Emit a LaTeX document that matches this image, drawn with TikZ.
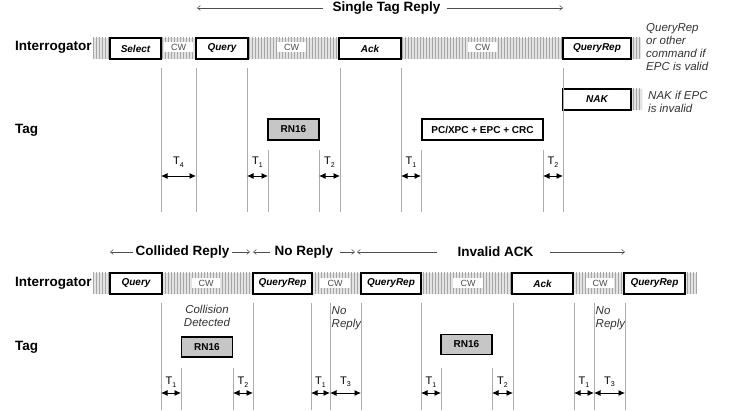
\documentclass[tikz,border=0pt]{standalone}
\usepackage{fontspec}
\setmainfont{Liberation Sans}
\usetikzlibrary{arrows.meta,patterns}
\newcommand\mystripes[4]{%
  \fill[gray!22] (#1,#2) rectangle (#3,#4);
  \fill[pattern=vertical lines, pattern color=gray!70] (#1,#2) rectangle (#3,#4);}
\newcommand\Tsub[2]{T\raisebox{-2.5pt}{\fontsize{7}{7}\selectfont #2}}
\begin{document}
\begin{tikzpicture}[x=1pt,y=-1pt,
 lbl/.style={font=\fontsize{13.5}{16}\selectfont\bfseries, anchor=west, inner sep=0},
 hdr/.style={font=\fontsize{13.5}{16}\selectfont\bfseries, inner sep=0},
 cmd/.style={draw=black, line width=1.1pt, fill=white, inner sep=0, minimum height=21pt, font=\fontsize{10}{12}\selectfont\bfseries\itshape},
 tagbox/.style={draw=black, line width=1.1pt, fill=gray!45, inner sep=0, minimum height=21pt, font=\fontsize{10}{12}\selectfont\bfseries},
 cw/.style={fill=white, inner sep=0, minimum width=29pt, minimum height=10pt, font=\fontsize{9}{10}\selectfont, text=black!70},
 vline/.style={draw=gray!65, line width=0.9pt},
 tarr/.style={{Latex[length=6.5pt,width=6pt]}-{Latex[length=6.5pt,width=6pt]}, line width=0.8pt},
 tlab/.style={font=\fontsize{11}{12}\selectfont, inner sep=0},
 note/.style={font=\fontsize{11.5}{13}\selectfont\itshape, inner sep=0, text=black!80},
 harr/.style={-{Straight Barb[length=3pt,width=5pt]}, draw=black!70, line width=0.5pt},
]
\useasboundingbox (0,0) rectangle (732,411);

% ---------- top section ----------
\mystripes{93}{38}{563}{59}
\mystripes{631}{38}{641}{59}
\mystripes{631}{89}{642}{110}

\node[lbl] (int1) at (15,47) {Interrogator};
\node[lbl] (tag1) at (15,130) {Tag};

\node[hdr] (h1) at (386.5,8) {Single Tag Reply};
\coordinate (h1l) at (197,8);
\coordinate (h1r) at (563,8);
\draw[harr] ([xshift=-9pt]h1.west) -- (h1l);
\draw[harr] ([xshift=6pt]h1.east) -- (h1r);

\node[cmd, minimum width=51pt] (sel) at (135.5,48.5) {Select};
\node[cw] (cw1) at (178.5,47) {CW};
\node[cmd, minimum width=52pt] (qry) at (222,48.5) {Query};
\node[cw] (cw2) at (291.5,47) {CW};
\node[cmd, minimum width=62pt] (ack) at (370,48.5) {Ack};
\node[cw] (cw3) at (482.5,47) {CW};
\node[cmd, minimum width=68pt] (qr0) at (597,48.5) {QueryRep};
\node[cmd, minimum width=68pt] (nak) at (597,99.5) {NAK};
\node[tagbox, minimum width=51pt] (rn1) at (293.5,129.5) {RN16};
\node[cmd, font=\fontsize{10}{12}\selectfont\bfseries, minimum width=121pt] (epc) at (482.5,129.5) {PC/XPC + EPC + CRC};

\node[note, anchor=west, align=left] (n1) at (646,47.5) {QueryRep\\or other\\command if\\EPC is valid};
\node[note, anchor=west, align=left] (n2) at (648,101.5) {NAK if EPC\\is invalid};

\foreach \x in {161,196,247,340,401,563} \draw[vline] (\x,68) -- (\x,212);
\foreach \x in {268,319,421,543} \draw[vline] (\x,150) -- (\x,212);

\foreach \a/\b/\n in {161/196/4,247/268/1,319/340/2,401/421/1,543/563/2}{
  \coordinate (ta\a) at (\a,176);
  \coordinate (tb\a) at (\b,176);
  \draw[tarr] (ta\a) -- (tb\a);
  \node[tlab] at ({(\a+\b)/2},162) {\Tsub{}{\n}};
}

% ---------- bottom section ----------
\mystripes{93}{273}{697}{294}

\node[lbl] (int2) at (15,283) {Interrogator};
\node[lbl] (tag2) at (15,347) {Tag};

\node[hdr] (h2) at (182.5,252) {Collided Reply};
\node[hdr] (h3) at (304,252) {No Reply};
\node[hdr] (h4) at (495.5,252) {Invalid ACK};
\coordinate (c1) at (110,252);
\coordinate (c2) at (250,252);
\coordinate (c3) at (253,252);
\coordinate (c4) at (355,252);
\coordinate (c5) at (357,252);
\coordinate (c6) at (625,252);
\draw[harr] (133,252) -- (c1);
\draw[harr] (232,252) -- (c2);
\draw[harr] (270,252) -- (c3);
\draw[harr] (340,252) -- (c4);
\draw[harr] (437,252) -- (c5);
\draw[harr] (550,252) -- (c6);

\node[cmd, minimum width=52pt] (q2) at (136,283.5) {Query};
\node[cw, minimum width=28pt] (cw4) at (206,283) {CW};
\node[cmd, minimum width=59pt] (qr1) at (282.5,283.5) {QueryRep};
\node[cw, minimum width=30pt] (cw5) at (335,283) {CW};
\node[cmd, minimum width=60pt] (qr2) at (391,283.5) {QueryRep};
\node[cw, minimum width=30pt] (cw6) at (468,283) {CW};
\node[cmd, minimum width=61pt] (ack2) at (542.5,283.5) {Ack};
\node[cw, minimum width=28pt] (cw7) at (600,283) {CW};
\node[cmd, minimum width=61pt] (qr3) at (654.5,283.5) {QueryRep};

\node[tagbox, minimum width=51pt, minimum height=20pt] (rn2) at (207,347) {RN16};
\node[tagbox, minimum width=51pt, minimum height=20pt] (rn3) at (466.5,344.5) {RN16};

\node[note, align=center] (n3) at (207,316) {Collision\\Detected};
\node[note, anchor=west, align=left] (n4) at (331.5,318) {No\\Reply};
\node[note, anchor=west, align=left] (n5) at (595.5,318) {No\\Reply};

\foreach \x in {161,253,311,330,361,421,513,574,594,625} \draw[vline] (\x,303) -- (\x,410);
\foreach \x in {181,233,441,492} \draw[vline] (\x,368) -- (\x,410);

\foreach \a/\b/\n in {161/181/1,233/253/2,311/330/1,330/361/3,421/441/1,492/513/2,574/594/1,594/625/3}{
  \coordinate (ua\a) at (\a,393);
  \coordinate (ub\a) at (\b,393);
  \draw[tarr] (ua\a) -- (ub\a);
  \node[tlab] at ({(\a+\b)/2},382) {\Tsub{}{\n}};
}
\end{tikzpicture}
\end{document}
